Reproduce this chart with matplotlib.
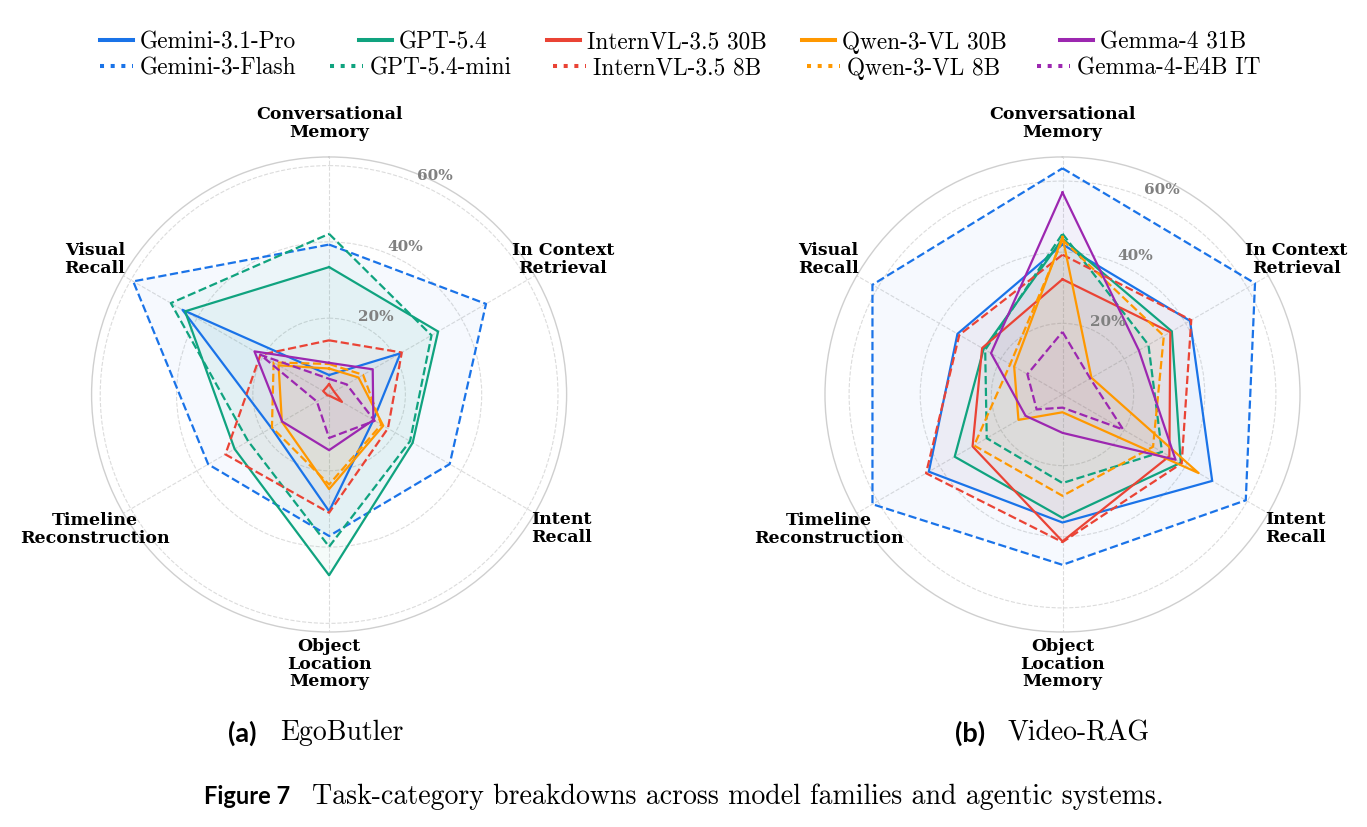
import numpy as np
import matplotlib
matplotlib.use("Agg")
import matplotlib.pyplot as plt
from matplotlib.lines import Line2D

# ---------------- data ----------------
categories = ["Conversational\nMemory", "In Context\nRetrieval", "Intent\nRecall",
              "Object\nLocation\nMemory", "Timeline\nReconstruction", "Visual\nRecall"]

models = ["Gemini-3.1-Pro", "Gemini-3-Flash", "GPT-5.4", "GPT-5.4-mini",
          "InternVL-3.5 30B", "InternVL-3.5 8B", "Qwen-3-VL 30B", "Qwen-3-VL 8B",
          "Gemma-4 31B", "Gemma-4-E4B IT"]

# order of values: Conversational, In Context, Intent, Object Location, Timeline, Visual
ego_gemini_31_pro = [5.1, 21.6, 13.4, 30.6, 17.5, 44.4]
ego_gemini_3_flash = [39.3, 47.5, 36.5, 37.1, 36.6, 59.3]
ego_gpt_54 = [33.4, 33.0, 25.3, 47.4, 28.6, 43.6]
ego_gpt_54_mini = [42.1, 31.0, 24.5, 39.9, 24.5, 47.9]
ego_internvl_30b = [2.7, 1.5, 3.9, 0.3, 0.5, 1.8]
ego_internvl_8b = [14.2, 22.0, 17.8, 31.0, 31.4, 20.8]
ego_qwen_30b = [6.8, 8.9, 16.4, 24.8, 14.3, 15.3]
ego_qwen_8b = [8.0, 10.3, 15.8, 23.6, 17.3, 16.8]
ego_gemma_31b = [8.3, 13.2, 13.4, 14.6, 14.2, 22.6]
ego_gemma_e4b = [4.1, 5.3, 13.8, 11.4, 3.7, 20.8]

rag_gemini_31_pro = [42.2, 41.4, 48.6, 36.0, 43.4, 34.1]
rag_gemini_3_flash = [63.6, 62.5, 59.5, 47.9, 61.7, 61.7]
rag_gpt_54 = [43.8, 35.5, 38.4, 34.7, 35.0, 25.6]
rag_gpt_54_mini = [45.2, 27.9, 32.3, 24.9, 24.6, 25.1]
rag_internvl_30b = [32.4, 35.0, 34.7, 41.3, 29.2, 26.1]
rag_internvl_8b = [39.3, 41.8, 38.7, 41.5, 44.3, 33.5]
rag_qwen_30b = [44.3, 9.4, 44.2, 5.0, 14.3, 15.7]
rag_qwen_8b = [43.5, 32.9, 29.4, 28.5, 28.7, 17.0]
rag_gemma_31b = [56.8, 24.8, 36.7, 10.8, 12.0, 23.2]
rag_gemma_e4b = [17.6, 9.0, 19.7, 3.7, 8.4, 11.4]

radial_ticks = [20, 40, 60]

ego_data = [ego_gemini_31_pro, ego_gemini_3_flash, ego_gpt_54, ego_gpt_54_mini,
            ego_internvl_30b, ego_internvl_8b, ego_qwen_30b, ego_qwen_8b,
            ego_gemma_31b, ego_gemma_e4b]
rag_data = [rag_gemini_31_pro, rag_gemini_3_flash, rag_gpt_54, rag_gpt_54_mini,
            rag_internvl_30b, rag_internvl_8b, rag_qwen_30b, rag_qwen_8b,
            rag_gemma_31b, rag_gemma_e4b]

# ---------------- style ----------------
BLUE, GREEN, RED, ORANGE, PURPLE = "#1a73e8", "#10a37f", "#ea4335", "#ff9800", "#9c27b0"
colors = [BLUE, BLUE, GREEN, GREEN, RED, RED, ORANGE, ORANGE, PURPLE, PURPLE]
styles = ["-", "--"] * 5
legend_styles = ["-", ":"] * 5

W, H = 1367, 827
fig = plt.figure(figsize=(W / 100, H / 100), dpi=100)

label_r_factor = [1.141, 1.137, 1.131, 1.135, 1.137, 1.139]


def radar(rect, data, caption_letter, caption_text, cap_x):
    ax = fig.add_axes(rect, projection="polar")
    ax.set_theta_offset(np.pi / 2)
    ax.set_theta_direction(-1)
    n = len(categories)
    angles = np.arange(n) * 2 * np.pi / n
    ymax = max(max(d) for d in data) * 1.05
    ax.set_ylim(0, ymax)
    ax.set_xticks(angles)
    ax.set_xticklabels([])
    ax.set_yticks(radial_ticks)
    ax.set_yticklabels([])
    ax.grid(True, linestyle="--", color="#dcdcdc", linewidth=0.8)
    ax.spines["polar"].set_color("#cfcfcf")
    ax.spines["polar"].set_linewidth(1.0)
    ax.tick_params(length=0)
    closed = np.concatenate([angles, angles[:1]])
    for vals, c, ls in zip(data, colors, styles):
        v = np.concatenate([vals, vals[:1]])
        ax.fill(closed, v, color=c, alpha=0.04, zorder=2, linewidth=0)
        ax.plot(closed, v, color=c, linestyle=ls, linewidth=1.6, zorder=3)
    for t in radial_ticks:
        ax.text(np.deg2rad(22.5), t, f"{t}%", ha="left", va="bottom",
                fontsize=11, fontweight="bold", color="#808080",
                family="DejaVu Serif", zorder=4)
    for a, lab, f in zip(angles, categories, label_r_factor):
        ax.text(a, ymax * f, lab, ha="center", va="center", fontsize=12.5,
                fontweight="bold", family="DejaVu Serif", linespacing=1.05)
    fig.text(cap_x, 1 - 733 / H, caption_letter, ha="left", va="center",
             fontsize=19.5, fontweight="bold", family="Lato")
    fig.text(cap_x + 52 / W, 1 - 733 / H, caption_text, ha="left",
             va="center", fontsize=20, family="cmr10")
    return ax


radar([0.067, 0.2358, 0.3475, 0.5744], ego_data, "(a)", "EgoButler", 228 / W)
radar([0.6035, 0.2358, 0.3475, 0.5744], rag_data, "(b)", "Video-RAG", 955 / W)

# ---------------- legend (two independently laid-out rows) ----------------
row_y = [40, 66]
handle_x = [[100, 359, 547, 802, 1060], [100, 330, 553, 807, 1037]]
handle_len = 33
for i, (name, c, ls) in enumerate(zip(models, colors, legend_styles)):
    col, row = i // 2, i % 2
    x0 = handle_x[row][col]
    y = 1 - row_y[row] / H
    fig.add_artist(Line2D([x0 / W, (x0 + handle_len) / W], [y, y],
                          transform=fig.transFigure, color=c, linestyle=ls,
                          linewidth=2.9))
    fig.text((x0 + handle_len + 7) / W, y, name, ha="left", va="center_baseline",
             fontsize=16.8, family="cmr10")

fig.text(204 / W, 1 - 797 / H, "Figure 7", ha="left", va="center",
         fontsize=17, fontweight="bold", family="Lato")
fig.text(312 / W, 1 - 797 / H,
         "Task-category breakdowns across model families and agentic systems.",
         ha="left", va="center", fontsize=20.1, family="cmr10")

fig.savefig("out.png", dpi=100)
